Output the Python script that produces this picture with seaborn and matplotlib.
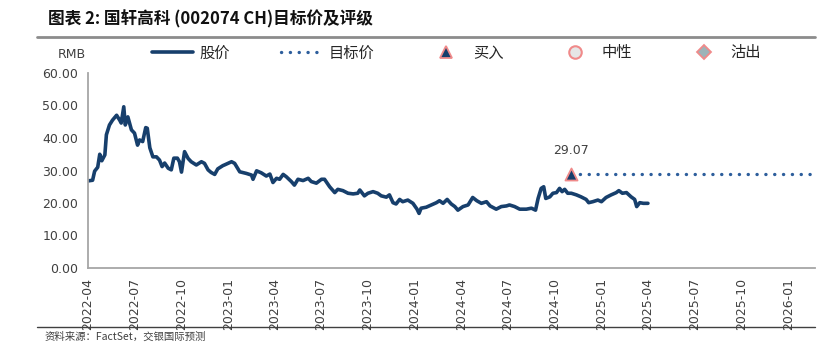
import matplotlib
matplotlib.use("Agg")
import matplotlib.pyplot as plt
import matplotlib.dates as mdates
import matplotlib.ticker as mticker
from matplotlib.lines import Line2D
import seaborn as sns
import pandas as pd

# share price (RMB)
price_dates = [
    "2022-04-01", "2022-04-10", "2022-04-14", "2022-04-20", "2022-04-24", "2022-04-28",
    "2022-05-04", "2022-05-07", "2022-05-13", "2022-05-19", "2022-05-27", "2022-06-02",
    "2022-06-05", "2022-06-10", "2022-06-13", "2022-06-18", "2022-06-25", "2022-07-01",
    "2022-07-07", "2022-07-11", "2022-07-17", "2022-07-23", "2022-07-26", "2022-07-31",
    "2022-08-06", "2022-08-13", "2022-08-19", "2022-08-24", "2022-08-29", "2022-09-05",
    "2022-09-11", "2022-09-16", "2022-09-23", "2022-09-27", "2022-10-01", "2022-10-07",
    "2022-10-14", "2022-10-20", "2022-10-30", "2022-11-09", "2022-11-15", "2022-11-22",
    "2022-11-28", "2022-12-05", "2022-12-11", "2022-12-21", "2022-12-24", "2023-01-07",
    "2023-01-13", "2023-01-23", "2023-02-05", "2023-02-15", "2023-02-18", "2023-02-25",
    "2023-03-06", "2023-03-16", "2023-03-23", "2023-03-29", "2023-04-05", "2023-04-11",
    "2023-04-18", "2023-04-24", "2023-05-04", "2023-05-10", "2023-05-17", "2023-05-27",
    "2023-06-06", "2023-06-12", "2023-06-22", "2023-07-02", "2023-07-08", "2023-07-18",
    "2023-07-28", "2023-08-03", "2023-08-13", "2023-08-23", "2023-09-02", "2023-09-11",
    "2023-09-15", "2023-09-24", "2023-10-01", "2023-10-11", "2023-10-20", "2023-10-27",
    "2023-11-06", "2023-11-12", "2023-11-19", "2023-11-25", "2023-12-02", "2023-12-08",
    "2023-12-18", "2023-12-28", "2024-01-05", "2024-01-09", "2024-01-13", "2024-01-23",
    "2024-02-02", "2024-02-12", "2024-02-18", "2024-02-25", "2024-03-04", "2024-03-12",
    "2024-03-19", "2024-03-25", "2024-04-04", "2024-04-14", "2024-04-23", "2024-05-01",
    "2024-05-10", "2024-05-20", "2024-05-27", "2024-06-08", "2024-06-18", "2024-06-28",
    "2024-07-04", "2024-07-14", "2024-07-24", "2024-08-06", "2024-08-16", "2024-08-24",
    "2024-08-29", "2024-09-04", "2024-09-09", "2024-09-13", "2024-09-21", "2024-09-27",
    "2024-10-04", "2024-10-10", "2024-10-15", "2024-10-20", "2024-10-26", "2024-11-02",
    "2024-11-12", "2024-11-21", "2024-12-01", "2024-12-06", "2024-12-14", "2024-12-24",
    "2024-12-31", "2025-01-09", "2025-01-19", "2025-01-29", "2025-02-03", "2025-02-10",
    "2025-02-18", "2025-02-27", "2025-03-06", "2025-03-10", "2025-03-16", "2025-03-23",
    "2025-04-01",
]
price_values = [
    26.8, 27.0, 29.8, 31.0, 35.0, 33.0,
    34.8, 41.0, 44.0, 45.5, 47.0, 45.5,
    44.6, 49.6, 44.0, 46.5, 42.5, 41.5,
    37.8, 39.4, 38.9, 43.2, 43.0, 37.0,
    34.2, 34.2, 33.2, 31.2, 32.3, 30.7,
    30.2, 33.8, 33.8, 32.7, 29.5, 35.8,
    33.7, 32.7, 31.7, 32.7, 32.2, 30.2,
    29.4, 28.8, 30.5, 31.5, 31.7, 32.7,
    32.2, 29.6, 29.1, 28.6, 27.3, 29.9,
    29.3, 28.3, 28.9, 26.3, 27.6, 27.3,
    28.8, 28.1, 26.6, 25.5, 27.3, 26.9,
    27.6, 26.6, 26.1, 27.3, 27.3, 25.0,
    23.2, 24.2, 23.8, 23.0, 22.8, 23.0,
    24.0, 22.2, 23.0, 23.5, 23.0, 22.2,
    21.8, 22.5, 20.1, 19.7, 21.1, 20.4,
    20.9, 19.9, 18.1, 16.8, 18.4, 18.7,
    19.4, 20.1, 20.7, 19.9, 21.1, 19.7,
    18.9, 17.8, 18.9, 19.4, 21.7, 20.7,
    19.9, 20.4, 19.1, 18.1, 18.9, 19.1,
    19.4, 18.9, 18.1, 18.1, 18.4, 17.8,
    21.4, 24.5, 25.0, 21.4, 21.9, 23.0,
    23.2, 24.5, 23.5, 24.2, 23.0, 23.0,
    22.5, 21.9, 21.1, 20.1, 20.4, 20.9,
    20.4, 21.7, 22.5, 23.2, 23.8, 23.0,
    23.2, 21.9, 21.1, 18.9, 20.1, 19.9,
    19.9,
]

# target price and rating
target_dates = ["2024-11-02", "2026-02-22"]
target_values = [29.07, 29.07]
rating_date = "2024-11-02"
rating_value = 29.07

x_start = "2022-04-01"
x_end = "2026-02-22"
y_ticks = [0, 10, 20, 30, 40, 50, 60]

price = pd.DataFrame({"date": pd.to_datetime(price_dates), "price": price_values})
target = pd.DataFrame({"date": pd.to_datetime(target_dates), "price": target_values})
rating = pd.DataFrame({"date": pd.to_datetime([rating_date]), "price": [rating_value]})

sns.set_style("white")
plt.rcParams['font.family'] = ['DejaVu Sans', 'Noto Sans CJK SC']
cjk = ['Noto Sans CJK SC', 'DejaVu Sans']

navy = "#173f6c"
dot_blue = "#2d5e9c"
pink = "#f08a8a"
grey_txt = "#404040"

fig = plt.figure(figsize=(8.23, 3.56), dpi=100)
ax = fig.add_axes([88 / 823, 1 - 268 / 356, (815 - 88) / 823, (268 - 73) / 356])

sns.lineplot(data=price, x="date", y="price", ax=ax, color=navy, lw=2.6)
sns.lineplot(data=target, x="date", y="price", ax=ax, color=dot_blue, lw=2.4,
             linestyle=(0, (0.05, 2.6)), dash_capstyle="round")
sns.scatterplot(data=rating, x="date", y="price", ax=ax, marker="^", s=75,
                color=navy, edgecolor=pink, linewidth=1.3, zorder=5)
ax.annotate(f"{rating_value:.2f}", (mdates.date2num(rating["date"][0]), rating_value),
            xytext=(0, 12), textcoords="offset points", ha="center", va="bottom",
            fontsize=9, color=grey_txt)

ax.set_xlim(pd.Timestamp(x_start), pd.Timestamp(x_end))
ax.set_ylim(0, 60)
ax.set_yticks(y_ticks)
ax.yaxis.set_major_formatter(mticker.FormatStrFormatter("%.2f"))
ax.xaxis.set_major_locator(mdates.MonthLocator(bymonth=[1, 4, 7, 10]))
ax.xaxis.set_minor_locator(mdates.MonthLocator())
ax.xaxis.set_major_formatter(mdates.DateFormatter("%Y-%m"))
ax.set_xlabel("")
ax.set_ylabel("")

for s in ["top", "right"]:
    ax.spines[s].set_visible(False)
for s in ["left", "bottom"]:
    ax.spines[s].set_color("#a6a6a6")
    ax.spines[s].set_linewidth(1.3)
ax.tick_params(axis="both", which="both", direction="out", colors="#a6a6a6",
               labelcolor=grey_txt, labelsize=9)
ax.tick_params(axis="x", which="major", length=4, rotation=90, pad=3)
ax.tick_params(axis="x", which="minor", length=2.5)
ax.tick_params(axis="y", length=4, pad=3)

# title and rules
fig.text(48 / 823, 1 - 19 / 356, "图表 2: 国轩高科 (002074 CH)目标价及评级",
         family=cjk, fontsize=12, fontweight="bold", va="center", color="#111111")
fig.add_artist(Line2D([37 / 823, 815 / 823], [1 - 37 / 356] * 2, color="#8c8c8c", lw=2))
fig.add_artist(Line2D([37 / 823, 815 / 823], [1 - 327 / 356] * 2, color="#404040", lw=1))
fig.text(45 / 823, 1 - 337 / 356, "资料来源：FactSet，交银国际预测", family=cjk,
         fontsize=7.5, va="center", color=grey_txt)
fig.text(72 / 823, 1 - 54 / 356, "RMB", fontsize=9, ha="center", va="center", color=grey_txt)

handles = [
    Line2D([], [], color=navy, lw=2.6),
    Line2D([], [], color=dot_blue, lw=2.4, linestyle=(0, (0.05, 2.6)), dash_capstyle="round"),
    Line2D([], [], ls="none", marker="^", markersize=8, markerfacecolor=navy,
           markeredgecolor=pink, markeredgewidth=1.3),
    Line2D([], [], ls="none", marker="o", markersize=9, markerfacecolor="#e6e6e6",
           markeredgecolor=pink, markeredgewidth=1.5),
    Line2D([], [], ls="none", marker="D", markersize=7, markerfacecolor="#9db3b8",
           markeredgecolor=pink, markeredgewidth=1.3),
]
labels = ["股价", "目标价", "买入", "中性", "沽出"]
fig.legend(handles, labels, ncol=5, loc="center left", frameon=False,
           bbox_to_anchor=(146 / 823, 1 - 53 / 356), prop={"family": cjk, "size": 11},
           handlelength=2.7, handletextpad=0.4, columnspacing=3.35, borderaxespad=0)

fig.savefig("out.png", dpi=100)
